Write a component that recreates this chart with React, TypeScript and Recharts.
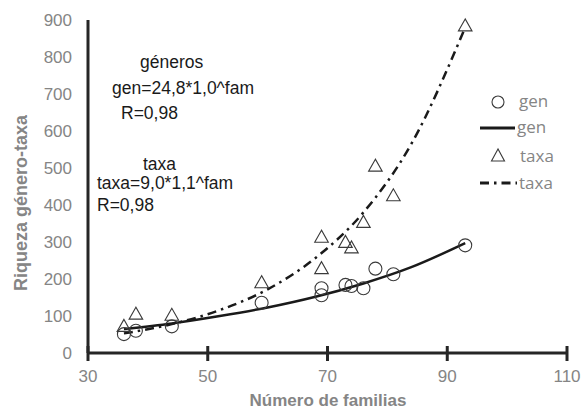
import { ComposedChart, Scatter, Line, XAxis, YAxis } from "recharts";

// number of families per site
const familias = [36, 38, 44, 59, 69, 69, 73, 74, 76, 78, 81, 93];
const generos = [51, 60, 72, 136, 156, 175, 184, 181, 175, 228, 213, 291];
const taxa = [72, 105, 102, 190, 228, 313, 299, 284, 353, 505, 425, 884];

// fitted exponential trend lines
const trendFam = [36, 44, 52, 60, 68, 76, 84, 93];
const trendGen = [65, 80, 100, 123, 152, 188, 232, 297];
const trendTaxa = [53, 78, 116, 172, 257, 380, 565, 880];

const xTicks = [30, 50, 70, 90, 110];
const yTicks = [0, 100, 200, 300, 400, 500, 600, 700, 800, 900];

const genPts = familias.map((x, i) => ({ x, y: generos[i] }));
const taxaPts = familias.map((x, i) => ({ x, y: taxa[i] }));
const genLine = trendFam.map((x, i) => ({ x, y: trendGen[i] }));
const taxaLine = trendFam.map((x, i) => ({ x, y: trendTaxa[i] }));

const INK = "#262626";
const GREY = "#858585";
const FONT = "'Liberation Sans', Arial, sans-serif";
const DASHDOT = "9 5 2.5 5";

const CircleMark = (p: any) => (
  <circle cx={p.cx} cy={p.cy} r={6.5} fill="none" stroke="#3a3a3a" strokeWidth={1.1} />
);

const TriangleMark = (p: any) => (
  <polygon
    points={`${p.cx},${p.cy - 7} ${p.cx - 6.8},${p.cy + 5} ${p.cx + 6.8},${p.cy + 5}`}
    fill="none"
    stroke="#3a3a3a"
    strokeWidth={1.1}
  />
);

const XTick = (p: any) => (
  <g>
    <line x1={p.x} x2={p.x} y1={p.y - 7} y2={p.y + 8} stroke={INK} strokeWidth={3} />
    <text x={p.x} y={p.y + 29} textAnchor="middle" fill={GREY} fontSize={17} fontFamily={FONT}>
      {p.payload.value}
    </text>
  </g>
);

const YTick = (p: any) => (
  <text x={p.x} y={p.y + 6} textAnchor="end" fill={GREY} fontSize={17} fontFamily={FONT}>
    {p.payload.value}
  </text>
);

export default function App() {
  return (
    <div style={{ position: "absolute", left: 0, top: 0, width: 582, height: 412, background: "#fff" }}>
      <ComposedChart width={582} height={412} margin={{ top: 20, right: 15, left: 0, bottom: 0 }}>
        <XAxis
          type="number"
          dataKey="x"
          domain={[30, 110]}
          ticks={xTicks}
          height={59}
          axisLine={{ stroke: INK, strokeWidth: 3 }}
          tickLine={false}
          tickSize={0}
          tickMargin={0}
          tick={<XTick />}
          interval={0}
        />
        <YAxis
          type="number"
          domain={[0, 900]}
          ticks={yTicks}
          width={88}
          axisLine={{ stroke: INK, strokeWidth: 3 }}
          tickLine={false}
          tickSize={0}
          tickMargin={16}
          tick={<YTick />}
          interval={0}
        />
        <Line
          data={genLine}
          dataKey="y"
          type="monotone"
          stroke="#1a1a1a"
          strokeWidth={2.5}
          dot={false}
          isAnimationActive={false}
        />
        <Line
          data={taxaLine}
          dataKey="y"
          type="monotone"
          stroke="#1a1a1a"
          strokeWidth={2.5}
          strokeDasharray={DASHDOT}
          dot={false}
          isAnimationActive={false}
        />
        <Scatter data={genPts} dataKey="y" shape={CircleMark} isAnimationActive={false} />
        <Scatter data={taxaPts} dataKey="y" shape={TriangleMark} isAnimationActive={false} />
      </ComposedChart>

      <svg width={582} height={412} style={{ position: "absolute", left: 0, top: 0, pointerEvents: "none" }}>
        {/* axis titles */}
        <text x={328} y={406} textAnchor="middle" fill={GREY} fontSize={17} fontWeight="bold" fontFamily={FONT}>
          Número de familias
        </text>
        <text
          transform="translate(27,203) rotate(-90)"
          textAnchor="middle"
          fill={GREY}
          fontSize={18}
          fontWeight="bold"
          fontFamily={FONT}
        >
          Riqueza género-taxa
        </text>

        {/* fit annotations */}
        <g fill="#1a1a1a" fontSize={17.5} fontFamily={FONT}>
          <text x={140} y={68}>géneros</text>
          <text x={112} y={94}>gen=24,8*1,0^fam</text>
          <text x={121} y={119}>R=0,98</text>
          <text x={143} y={170}>taxa</text>
          <text x={97} y={189}>taxa=9,0*1,1^fam</text>
          <text x={97} y={211}>R=0,98</text>
        </g>

        {/* legend */}
        <g fill={GREY} fontSize={17} fontFamily="'Open Sans', sans-serif">
          <circle cx={498} cy={102} r={6} fill="none" stroke="#3a3a3a" strokeWidth={1.1} />
          <text x={519} y={107}>gen</text>
          <line x1={480} x2={515} y1={128} y2={128} stroke="#1a1a1a" strokeWidth={3} />
          <text x={517} y={133}>gen</text>
          <polygon points="498,149 491.5,161 504.5,161" fill="none" stroke="#3a3a3a" strokeWidth={1.1} />
          <text x={520} y={162}>taxa</text>
          <line x1={480} x2={517} y1={183} y2={183} stroke="#1a1a1a" strokeWidth={3} strokeDasharray={DASHDOT} />
          <text x={519} y={189}>taxa</text>
        </g>
      </svg>
    </div>
  );
}
